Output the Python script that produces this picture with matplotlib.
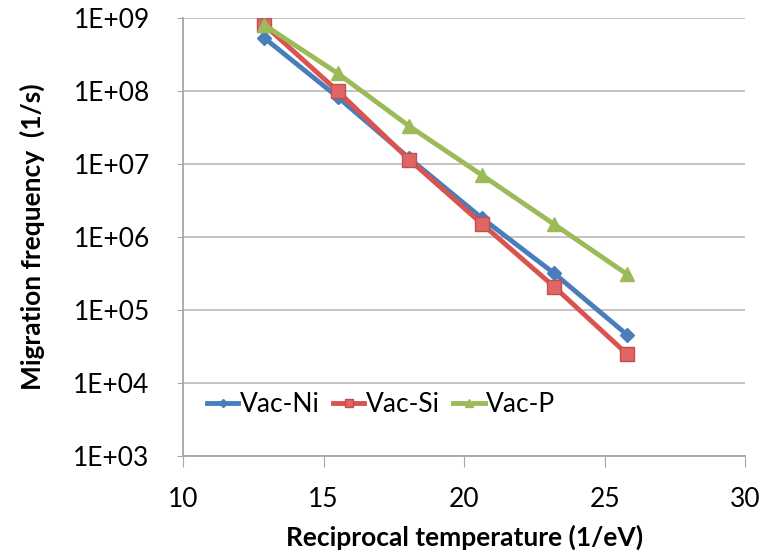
import numpy as np
import matplotlib
matplotlib.use('Agg')
import matplotlib.pyplot as plt
from matplotlib.ticker import FixedLocator, FixedFormatter

plt.rcParams['font.family'] = ['Lato', 'DejaVu Sans']

# reciprocal temperature (1/eV)
recip_t = [12.9, 15.5, 18.05, 20.65, 23.2, 25.8]

vac_ni = [5.3e8, 8.3e7, 1.2e7, 1.8e6, 3.2e5, 4.6e4]
vac_si = [8.0e8, 1.0e8, 1.15e7, 1.5e6, 2.1e5, 2.5e4]
vac_p = [8.0e8, 1.75e8, 3.3e7, 7.0e6, 1.5e6, 3.1e5]

ytick_vals = [1e3, 1e4, 1e5, 1e6, 1e7, 1e8, 1e9]
ytick_labels = ['1E+03', '1E+04', '1E+05', '1E+06', '1E+07', '1E+08', '1E+09']
xtick_vals = [10, 15, 20, 25, 30]

fig = plt.figure(figsize=(7.77, 5.55), dpi=100)
ax = fig.add_axes([0.2355, 0.178, 0.7235, 0.7896])

ax.plot(recip_t, vac_ni, '-D', color='#4A7EBB', lw=3.5, ms=7, label='Vac-Ni',
        mec='#4A7EBB')
ax.plot(recip_t, vac_si, '-s', color='#D9534F', lw=3.5, ms=10, label='Vac-Si',
        mfc='#E06666', mec='#C0504D')
ax.plot(recip_t, vac_p, '-^', color='#9BBB59', lw=3.5, ms=10, label='Vac-P',
        mec='#9BBB59')

ax.set_yscale('log')
ax.set_ylim(1e3, 1e9)
ax.set_xlim(10, 30)
ax.yaxis.set_major_locator(FixedLocator(ytick_vals))
ax.yaxis.set_major_formatter(FixedFormatter(ytick_labels))
ax.yaxis.set_minor_locator(FixedLocator([]))
ax.set_xticks(xtick_vals)

ax.grid(axis='y', color='#BFBFBF', lw=1.3)
ax.set_axisbelow(True)
for s in ['top', 'right']:
    ax.spines[s].set_visible(False)
for s in ['left', 'bottom']:
    ax.spines[s].set_color('#A6A6A6')
    ax.spines[s].set_linewidth(1.3)

ax.tick_params(axis='y', length=4, color='#A6A6A6', labelsize=19, pad=20)
ax.tick_params(axis='x', length=8, color='#A6A6A6', labelsize=19, pad=14)

ax.set_xlabel('Reciprocal temperature (1/eV)', fontsize=19, fontweight='bold',
              labelpad=9)
ax.set_ylabel('Migration frequency  (1/s)', fontsize=19, fontweight='bold',
              labelpad=20)

ax.legend(loc='lower left', bbox_to_anchor=(0.0, 0.035), ncol=3, frameon=False,
          fontsize=19, handlelength=1.2, handletextpad=0.05, columnspacing=0.5,
          markerscale=0.6)

fig.savefig('out.png', dpi=100)
